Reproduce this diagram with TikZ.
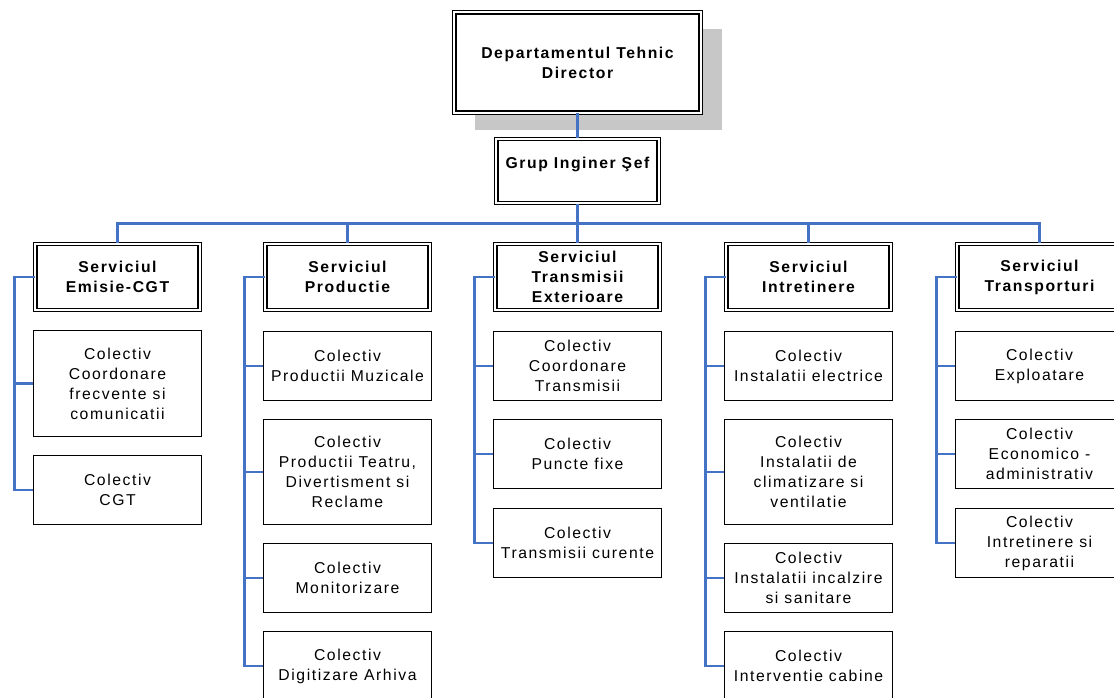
\documentclass[tikz,border=0pt]{standalone}
\usepackage{fontspec}
\setmainfont{Liberation Sans}[LetterSpace = 10]
\usetikzlibrary{shadows}

\definecolor{linkblue}{RGB}{68,114,196}

\tikzset{
    framed/.style = {draw, fill = white, double = white, double distance = 1.8pt, line width = 0.9pt, inner sep = 1pt, font = \fontsize{11.8}{15}\selectfont\bfseries},
    boss/.style = {framed, minimum width = 185pt, minimum height = 75.5pt,
        drop shadow = {shadow xshift = 15.75pt, shadow yshift = -13pt, fill = black!22, opacity = 1}},
    chief/.style = {framed, minimum width = 122pt, minimum height = 48pt, text depth = 12pt},
    service/.style = {framed, minimum width = 123.5pt, minimum height = 49.5pt},
    team/.style = {draw, fill = white, line width = 1pt, inner sep = 1pt, minimum width = 125.75pt, minimum height = 51.75pt},
    tall/.style = {minimum height = 78.75pt},
    link/.style = {draw = linkblue, line width = 1.9pt}
}

\begin{document}
\begin{tikzpicture}[x = 0.75pt, y = -0.75pt, font = \fontsize{11.8}{15}\selectfont, every text node part/.style = {align = center}]
    \useasboundingbox (0, 0) rectangle (1114, 698);

    % head of the department
    \node[boss] (director) at (577.5, 62.5) {Departamentul Tehnic\\Director};
    \node[chief] (grup) at (577.5, 171) {Grup Inginer Şef};

    % services
    \node[service] (emisie) at (117.5, 277) {Serviciul\\Emisie-CGT};
    \node[service] (productie) at (347.5, 277) {Serviciul\\Productie};
    \node[service] (transmisii) at (577.5, 277) {Serviciul\\Transmisii\\Exterioare};
    \node[service] (intretinere) at (808.5, 277) {Serviciul\\Intretinere};
    \node[service] (transport) at (1039.5, 277) {Serviciul\\Transporturi};

    % teams
    \node[team, minimum height = 79.5pt] (emisie1) at (117.5, 383.5) {Colectiv\\Coordonare\\frecvente si\\comunicatii};
    \node[team] (emisie2) at (117.5, 490) {Colectiv\\CGT};

    \node[team] (productie1) at (347.5, 366) {Colectiv\\Productii Muzicale};
    \node[team, tall] (productie2) at (347.5, 472) {Colectiv\\Productii Teatru,\\Divertisment si\\Reclame};
    \node[team] (productie3) at (347.5, 578) {Colectiv\\Monitorizare};
    \node[team] (productie4) at (347.5, 666) {Colectiv\\Digitizare Arhiva};

    \node[team] (transmisii1) at (577.5, 366) {Colectiv\\Coordonare\\Transmisii};
    \node[team] (transmisii2) at (577.5, 454) {Colectiv\\Puncte fixe};
    \node[team] (transmisii3) at (577.5, 543) {Colectiv\\Transmisii curente};

    \node[team] (intretinere1) at (808.5, 366) {Colectiv\\Instalatii electrice};
    \node[team, tall] (intretinere2) at (808.5, 472) {Colectiv\\Instalatii de\\climatizare si\\ventilatie};
    \node[team] (intretinere3) at (808.5, 578) {Colectiv\\Instalatii incalzire\\si sanitare};
    \node[team] (intretinere4) at (808.5, 666) {Colectiv\\Interventie cabine};

    \node[team] (transport1) at (1039.5, 366) {Colectiv\\Exploatare};
    \node[team] (transport2) at (1039.5, 454) {Colectiv\\Economico -\\administrativ};
    \node[team] (transport3) at (1039.5, 543) {Colectiv\\Intretinere si\\reparatii};

    % connectors
    \draw[link] (director) -- (grup);
    \draw[link] (grup.south) -- ++(0, 20) coordinate (bus);
    \draw[link] (bus) -| (emisie.north);
    \draw[link] (bus) -| (productie.north);
    \draw[link] (bus) -- (transmisii.north);
    \draw[link] (bus) -| (intretinere.north);
    \draw[link] (bus) -| (transport.north);

    \draw[link] (emisie.west) -- ++(-20, 0) |- (emisie1.west);
    \draw[link] (emisie.west) -- ++(-20, 0) |- (emisie2.west);

    \draw[link] (productie.west) -- ++(-20, 0) |- (productie1.west);
    \draw[link] (productie.west) -- ++(-20, 0) |- (productie2.west);
    \draw[link] (productie.west) -- ++(-20, 0) |- (productie3.west);
    \draw[link] (productie.west) -- ++(-20, 0) |- (productie4.west);

    \draw[link] (transmisii.west) -- ++(-20, 0) |- (transmisii1.west);
    \draw[link] (transmisii.west) -- ++(-20, 0) |- (transmisii2.west);
    \draw[link] (transmisii.west) -- ++(-20, 0) |- (transmisii3.west);

    \draw[link] (intretinere.west) -- ++(-20, 0) |- (intretinere1.west);
    \draw[link] (intretinere.west) -- ++(-20, 0) |- (intretinere2.west);
    \draw[link] (intretinere.west) -- ++(-20, 0) |- (intretinere3.west);
    \draw[link] (intretinere.west) -- ++(-20, 0) |- (intretinere4.west);

    \draw[link] (transport.west) -- ++(-20, 0) |- (transport1.west);
    \draw[link] (transport.west) -- ++(-20, 0) |- (transport2.west);
    \draw[link] (transport.west) -- ++(-20, 0) |- (transport3.west);
\end{tikzpicture}
\end{document}
